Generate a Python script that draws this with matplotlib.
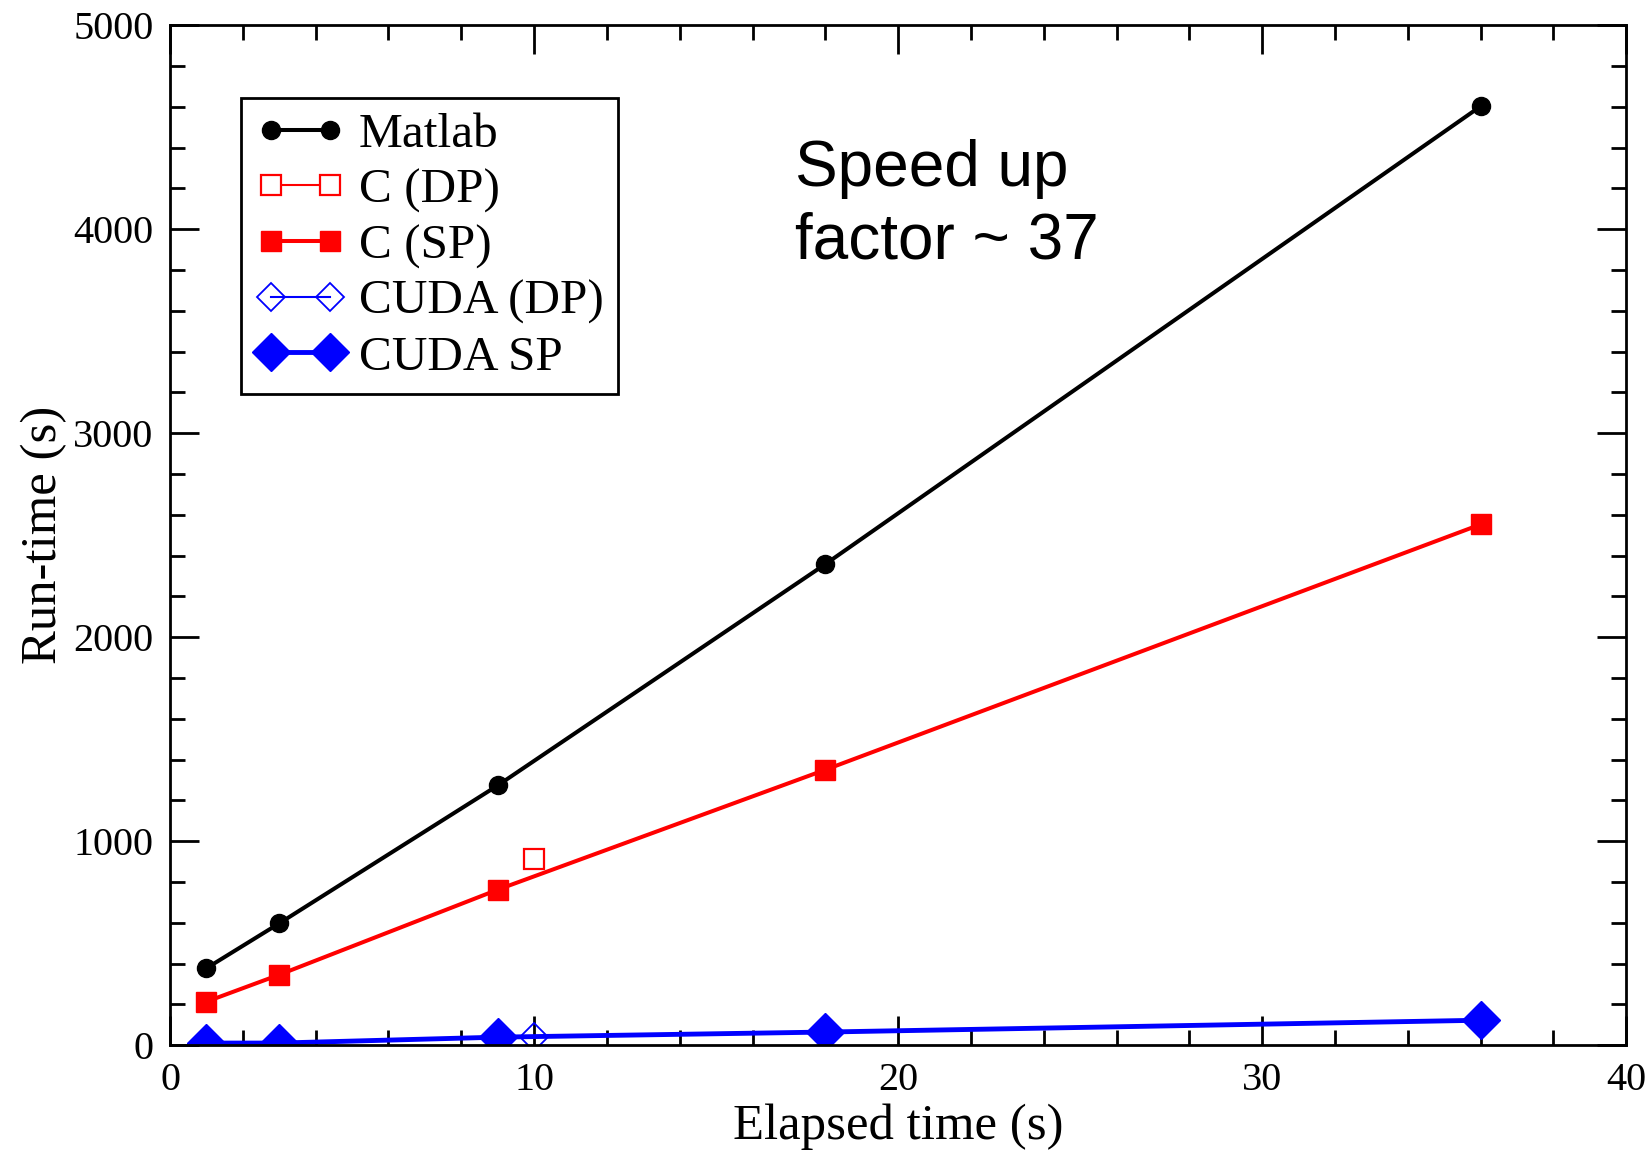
import matplotlib.pyplot as plt
from matplotlib.ticker import MultipleLocator

# elapsed time (s)
x_vals = [1, 3, 9, 18, 36]
# run-times (s)
matlab = [377, 597, 1273, 2358, 4603]
c_sp = [213, 345, 762, 1350, 2553]
cuda_sp = [10, 10, 39, 64, 122]
# single double-precision points
c_dp_x = [10]
c_dp = [913]
cuda_dp_x = [10]
cuda_dp = [40]

plt.rcParams['font.family'] = ['Liberation Serif', 'DejaVu Serif']

fig = plt.figure(figsize=(16.51, 11.51), dpi=100)
ax = fig.add_axes([0.103, 0.092, 0.882, 0.886])

ax.plot(x_vals, matlab, color='black', lw=2.9, marker='o', ms=13, label='Matlab')
ax.plot(c_dp_x, c_dp, color='red', lw=1.5, marker='s', ms=15, mfc='white',
        mec='red', mew=1.6, label='C (DP)')
ax.plot(x_vals, c_sp, color='red', lw=2.9, marker='s', ms=15, label='C (SP)')
ax.plot(cuda_dp_x, cuda_dp, color='blue', lw=1.5, marker='D', ms=14, mfc='none',
        mec='blue', mew=1.3, label='CUDA (DP)')
ax.plot(x_vals, cuda_sp, color='blue', lw=3.5, marker='D', ms=19, label='CUDA SP')

ax.set_xlim(0, 40)
ax.set_ylim(0, 5000)
ax.xaxis.set_major_locator(MultipleLocator(10))
ax.xaxis.set_minor_locator(MultipleLocator(2))
ax.yaxis.set_major_locator(MultipleLocator(1000))
ax.yaxis.set_minor_locator(MultipleLocator(200))
ax.tick_params(which='both', direction='in', top=True, right=True,
               width=2, labelsize=29, pad=12)
ax.tick_params(which='major', length=21)
ax.tick_params(which='minor', length=11)
for s in ax.spines.values():
    s.set_linewidth(2)

ax.set_xlabel('Elapsed time (s)', fontsize=36.5)
ax.xaxis.set_label_coords(0.5, -0.057)
ax.set_ylabel('Run-time (s)', fontsize=36.5, labelpad=4)

leg = ax.legend(loc='upper left', bbox_to_anchor=(0.049, 0.929), fontsize=35.5,
                numpoints=2, handlelength=1.8, handletextpad=0.28,
                labelspacing=0.22, borderpad=0.3, borderaxespad=0,
                fancybox=False, framealpha=1, edgecolor='black')
leg.get_frame().set_linewidth(2)

ax.text(0.429, 0.889, 'Speed up\nfactor ~ 37', transform=ax.transAxes,
        fontsize=46, family=['Liberation Sans', 'DejaVu Sans'],
        va='top', ha='left', linespacing=1.28)

fig.savefig('out.png', dpi=100)
